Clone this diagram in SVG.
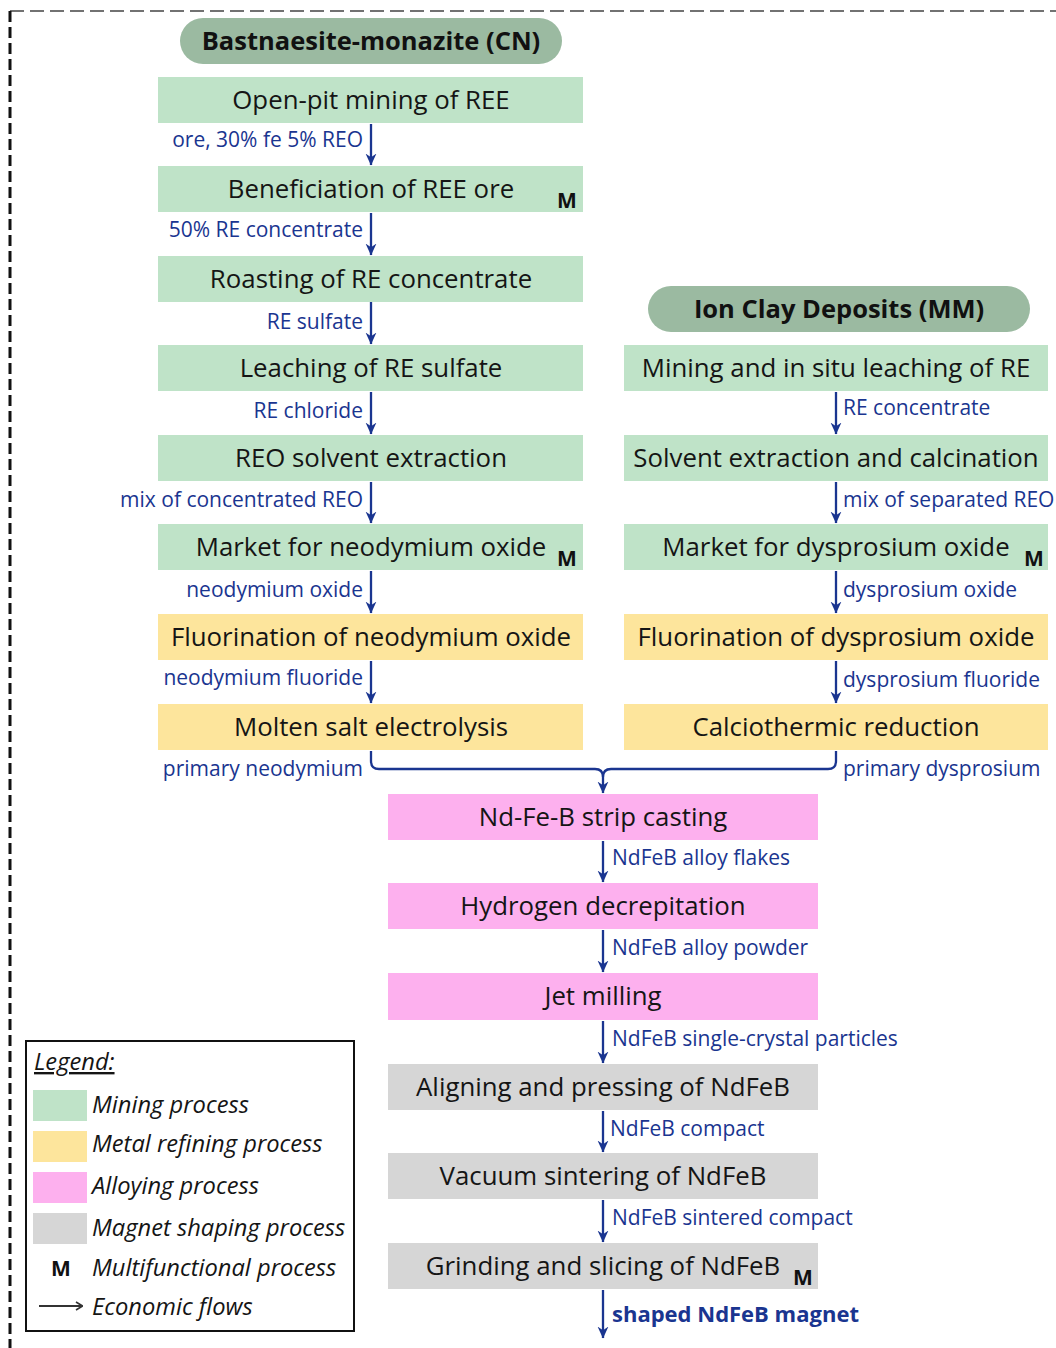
<svg xmlns="http://www.w3.org/2000/svg" width="1056" height="1348" viewBox="0 0 1056 1348">
<defs>
<style>
.box{stroke:none}
.g{fill:#bfe3c8}.y{fill:#fde59c}.p{fill:#fdb0ee}.s{fill:#d6d6d6}
.pill{fill:#9bbaa1}
.t{font-family:"Open Sans","Liberation Sans",sans-serif;font-size:25.8px;fill:#151515;text-anchor:middle}
.pt{font-family:"Open Sans","Liberation Sans",sans-serif;font-size:25.5px;font-weight:bold;fill:#111;text-anchor:middle}
.l{font-family:"Open Sans","Liberation Sans",sans-serif;font-size:21px;fill:#1a3590}
.lr{text-anchor:end}
.m{font-family:"Open Sans","Liberation Sans",sans-serif;font-size:21px;font-weight:bold;fill:#111;text-anchor:middle}
.c{fill:none;stroke:#1a3590;stroke-width:2.3}
.lg{font-family:"Open Sans","Liberation Sans",sans-serif;font-size:23.7px;font-style:italic;fill:#151515}
</style>
<marker id="ah" viewBox="0 0 10 10" refX="9.5" refY="5" markerWidth="12" markerHeight="12" markerUnits="userSpaceOnUse" orient="auto">
<path d="M0,0.5 L10,5 L0,9.5 L3,5 z" fill="#1a3590"/>
</marker>
<marker id="ad" viewBox="0 0 10 10" refX="9" refY="5" markerWidth="10" markerHeight="10" markerUnits="userSpaceOnUse" orient="auto">
<path d="M3,1 L9.5,5 L3,9" fill="none" stroke="#333" stroke-width="1.6"/>
</marker>
</defs>

<g id="frame">
<line x1="10" y1="11" x2="1056" y2="11" stroke="#444" stroke-width="1.6" stroke-dasharray="14,6"/>
<line x1="10" y1="11" x2="10" y2="1348" stroke="#111" stroke-width="3" stroke-dasharray="11,5"/>
</g>

<g id="connectors">
<path class="c" d="M371,124 V165" marker-end="url(#ah)"/>
<path class="c" d="M371,213 V255" marker-end="url(#ah)"/>
<path class="c" d="M371,302 V344" marker-end="url(#ah)"/>
<path class="c" d="M371,392 V434" marker-end="url(#ah)"/>
<path class="c" d="M371,482 V523" marker-end="url(#ah)"/>
<path class="c" d="M371,571 V613" marker-end="url(#ah)"/>
<path class="c" d="M371,661 V703" marker-end="url(#ah)"/>
<path class="c" d="M836,392 V434" marker-end="url(#ah)"/>
<path class="c" d="M836,482 V523" marker-end="url(#ah)"/>
<path class="c" d="M836,571 V613" marker-end="url(#ah)"/>
<path class="c" d="M836,661 V703" marker-end="url(#ah)"/>
<path class="c" d="M371,751 V761 Q371,769 379,769 H595 Q603,769 603,777 V793" marker-end="url(#ah)"/>
<path class="c" d="M836,751 V761 Q836,769 828,769 H611 Q603,769 603,777"/>
<path class="c" d="M603,841 V882" marker-end="url(#ah)"/>
<path class="c" d="M603,930 V972" marker-end="url(#ah)"/>
<path class="c" d="M603,1021 V1063" marker-end="url(#ah)"/>
<path class="c" d="M603,1111 V1152" marker-end="url(#ah)"/>
<path class="c" d="M603,1200 V1242" marker-end="url(#ah)"/>
<path class="c" d="M603,1290 V1338" marker-end="url(#ah)"/>
</g>

<g id="flow-labels">
<text class="l lr" x="363" y="147">ore, 30% fe 5% REO</text>
<text class="l lr" x="363" y="237">50% RE concentrate</text>
<text class="l lr" x="363" y="329">RE sulfate</text>
<text class="l lr" x="363" y="418">RE chloride</text>
<text class="l lr" x="363" y="507">mix of concentrated REO</text>
<text class="l lr" x="363" y="597">neodymium oxide</text>
<text class="l lr" x="363" y="685">neodymium fluoride</text>
<text class="l lr" x="363" y="776">primary neodymium</text>
<text class="l" x="843" y="415">RE concentrate</text>
<text class="l" x="843" y="507">mix of separated REO</text>
<text class="l" x="843" y="597">dysprosium oxide</text>
<text class="l" x="843" y="687">dysprosium fluoride</text>
<text class="l" x="843" y="776">primary dysprosium</text>
<text class="l" x="612" y="865">NdFeB alloy flakes</text>
<text class="l" x="612" y="955">NdFeB alloy powder</text>
<text class="l" x="612" y="1046">NdFeB single-crystal particles</text>
<text class="l" x="610" y="1136">NdFeB compact</text>
<text class="l" x="612" y="1225">NdFeB sintered compact</text>
<text class="l" x="612" y="1322" font-weight="bold" style="font-size:22px">shaped NdFeB magnet</text>
</g>

<g id="cn-title"><rect class="pill" x="180" y="18" width="382" height="46" rx="23"/><text class="pt" x="371" y="50">Bastnaesite-monazite (CN)</text></g>
<g id="mm-title"><rect class="pill" x="648" y="286" width="382" height="46" rx="23"/><text class="pt" x="839" y="318">Ion Clay Deposits (MM)</text></g>

<g id="n-openpit"><rect class="g" x="158" y="77" width="425" height="46"/><text class="t" x="371" y="109">Open-pit mining of REE</text></g>
<g id="n-benef"><rect class="g" x="158" y="166" width="425" height="46"/><text class="t" x="371" y="198">Beneficiation of REE ore</text><text class="m" x="567" y="208">M</text></g>
<g id="n-roast"><rect class="g" x="158" y="256" width="425" height="46"/><text class="t" x="371" y="288">Roasting of RE concentrate</text></g>
<g id="n-leach"><rect class="g" x="158" y="345" width="425" height="46"/><text class="t" x="371" y="377">Leaching of RE sulfate</text></g>
<g id="n-reo"><rect class="g" x="158" y="435" width="425" height="46"/><text class="t" x="371" y="467">REO solvent extraction</text></g>
<g id="n-mkt-nd"><rect class="g" x="158" y="524" width="425" height="46"/><text class="t" x="371" y="556">Market for neodymium oxide</text><text class="m" x="567" y="566">M</text></g>
<g id="n-fl-nd"><rect class="y" x="158" y="614" width="425" height="46"/><text class="t" x="371" y="646">Fluorination of neodymium oxide</text></g>
<g id="n-molten"><rect class="y" x="158" y="704" width="425" height="46"/><text class="t" x="371" y="736">Molten salt electrolysis</text></g>

<g id="n-insitu"><rect class="g" x="624" y="345" width="424" height="46"/><text class="t" x="836" y="377">Mining and in situ leaching of RE</text></g>
<g id="n-sx"><rect class="g" x="624" y="435" width="424" height="46"/><text class="t" x="836" y="467">Solvent extraction and calcination</text></g>
<g id="n-mkt-dy"><rect class="g" x="624" y="524" width="424" height="46"/><text class="t" x="836" y="556">Market for dysprosium oxide</text><text class="m" x="1034" y="566">M</text></g>
<g id="n-fl-dy"><rect class="y" x="624" y="614" width="424" height="46"/><text class="t" x="836" y="646">Fluorination of dysprosium oxide</text></g>
<g id="n-calcio"><rect class="y" x="624" y="704" width="424" height="46"/><text class="t" x="836" y="736">Calciothermic reduction</text></g>

<g id="n-strip"><rect class="p" x="388" y="794" width="430" height="46"/><text class="t" x="603" y="826">Nd-Fe-B strip casting</text></g>
<g id="n-hd"><rect class="p" x="388" y="883" width="430" height="46"/><text class="t" x="603" y="915">Hydrogen decrepitation</text></g>
<g id="n-jet"><rect class="p" x="388" y="973" width="430" height="47"/><text class="t" x="603" y="1005">Jet milling</text></g>
<g id="n-align"><rect class="s" x="388" y="1064" width="430" height="46"/><text class="t" x="603" y="1096">Aligning and pressing of NdFeB</text></g>
<g id="n-vac"><rect class="s" x="388" y="1153" width="430" height="46"/><text class="t" x="603" y="1185">Vacuum sintering of NdFeB</text></g>
<g id="n-grind"><rect class="s" x="388" y="1243" width="430" height="46"/><text class="t" x="603" y="1275">Grinding and slicing of NdFeB</text><text class="m" x="803" y="1285">M</text></g>

<g id="legend">
<rect x="26" y="1041" width="328" height="290" fill="#fff" stroke="#111" stroke-width="2"/>
<text class="lg" x="34" y="1070" text-decoration="underline">Legend:</text>
<rect class="g" x="33" y="1090" width="54" height="31"/>
<rect class="y" x="33" y="1131" width="54" height="31"/>
<rect class="p" x="33" y="1172" width="54" height="31"/>
<rect class="s" x="33" y="1213" width="54" height="31"/>
<text class="lg" x="92" y="1113">Mining process</text>
<text class="lg" x="92" y="1152">Metal refining process</text>
<text class="lg" x="92" y="1194">Alloying process</text>
<text class="lg" x="92" y="1236">Magnet shaping process</text>
<text class="m" x="61" y="1276">M</text>
<text class="lg" x="92" y="1276">Multifunctional process</text>
<line x1="39" y1="1306" x2="82" y2="1306" stroke="#333" stroke-width="1.8" marker-end="url(#ad)"/>
<text class="lg" x="92" y="1315">Economic flows</text>
</g>
</svg>
